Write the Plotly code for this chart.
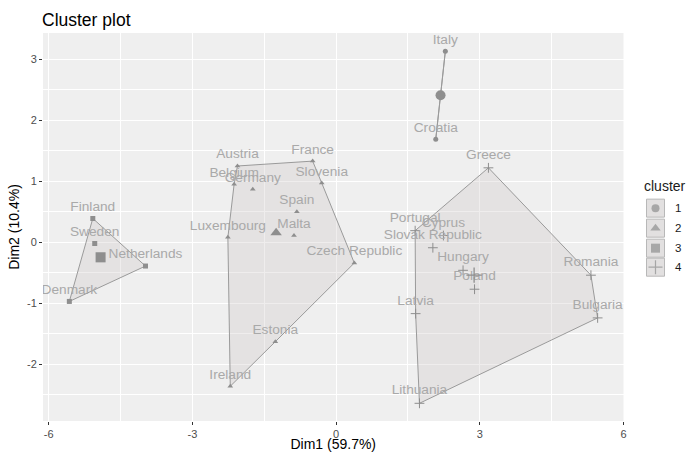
import plotly.graph_objects as go

# ---------------- data ----------------
countries = ["Italy", "Croatia",
             "Austria", "France", "Slovenia", "Belgium", "Germany", "Spain", "Malta",
             "Luxembourg", "Czech Republic", "Estonia", "Ireland",
             "Finland", "Sweden", "Netherlands", "Denmark",
             "Greece", "Portugal", "Cyprus", "Slovak Republic", "Hungary", "Poland",
             "Romania", "Bulgaria", "Latvia", "Lithuania"]
dim1 = [2.28, 2.08,
        -2.06, -0.49, -0.30, -2.13, -1.74, -0.82, -0.88,
        -2.26, 0.38, -1.27, -2.21,
        -5.08, -5.04, -3.98, -5.57,
        3.18, 1.65, 2.24, 2.02, 2.65, 2.89,
        5.32, 5.46, 1.66, 1.74]
dim2 = [3.13, 1.69,
        1.25, 1.33, 0.97, 0.95, 0.87, 0.50, 0.11,
        0.08, -0.34, -1.63, -2.36,
        0.39, -0.02, -0.39, -0.97,
        1.22, 0.19, 0.11, -0.09, -0.46, -0.77,
        -0.54, -1.24, -1.17, -2.64]
cluster = [1, 1,
           2, 2, 2, 2, 2, 2, 2, 2, 2, 2, 2,
           3, 3, 3, 3,
           4, 4, 4, 4, 4, 4, 4, 4, 4, 4]
cluster_ids = [1, 2, 3, 4]
symbols = {1: "circle", 2: "triangle-up", 3: "square", 4: "cross-thin"}

xticks = [-6, -3, 0, 3, 6]
yticks = [-2, -1, 0, 1, 2, 3]

PT = "#8e8e8e"
LAB = "#a9a9a9"
FONT = "Liberation Sans, Arial, sans-serif"


def hull(pts):
    pts = sorted(set(pts))
    if len(pts) < 3:
        return pts

    def cross(o, a, b):
        return (a[0] - o[0]) * (b[1] - o[1]) - (a[1] - o[1]) * (b[0] - o[0])
    lower, upper = [], []
    for p in pts:
        while len(lower) >= 2 and cross(lower[-2], lower[-1], p) <= 0:
            lower.pop()
        lower.append(p)
    for p in reversed(pts):
        while len(upper) >= 2 and cross(upper[-2], upper[-1], p) <= 0:
            upper.pop()
        upper.append(p)
    return lower[:-1] + upper[:-1]


fig = go.Figure()

# hulls
for c in cluster_ids:
    pts = [(x, y) for x, y, k in zip(dim1, dim2, cluster) if k == c]
    h = hull(pts)
    hx = [p[0] for p in h] + [h[0][0]]
    hy = [p[1] for p in h] + [h[0][1]]
    fig.add_trace(go.Scatter(x=hx, y=hy, mode="lines", fill="toself",
                             fillcolor="rgba(205,198,198,0.32)",
                             line=dict(color="#9a9a9a", width=1),
                             hoverinfo="skip", showlegend=False))

# points + labels
for c in cluster_ids:
    xs = [x for x, k in zip(dim1, cluster) if k == c]
    ys = [y for y, k in zip(dim2, cluster) if k == c]
    names = [n for n, k in zip(countries, cluster) if k == c]
    sym = symbols[c]
    mk = dict(symbol=sym, size=5 if c != 4 else 7, color=PT,
              line=dict(color=PT, width=1 if c == 4 else 0))
    fig.add_trace(go.Scatter(x=xs, y=ys, mode="markers+text", text=names,
                             textposition="top center",
                             textfont=dict(family=FONT, size=13.7, color=LAB),
                             marker=mk, showlegend=False))
    # centroid
    cx = sum(xs) / len(xs)
    cy = sum(ys) / len(ys)
    fig.add_trace(go.Scatter(x=[cx], y=[cy], mode="markers",
                             marker=dict(symbol=sym, size=10 if c != 4 else 11, color=PT,
                                         line=dict(color=PT, width=1.3 if c == 4 else 0)),
                             showlegend=False))

W, H = 687, 452

# ---- manual legend on a pixel-mapped overlay axis ----
key_y = [208, 228, 248, 267]
key_x0, key_x1 = 646.5, 664.5
for c, ky in zip(cluster_ids, key_y):
    fig.add_shape(type="rect", xref="x2", yref="y2", x0=key_x0, x1=key_x1,
                  y0=ky - 9, y1=ky + 9, fillcolor="#e2e0e0",
                  line=dict(color="#b8b8b8", width=1), layer="below")
    fig.add_annotation(xref="x2", yref="y2", x=673, y=ky, text=str(c),
                       showarrow=False, xanchor="left", yanchor="middle",
                       font=dict(family=FONT, size=11.5, color="#1a1a1a"))
fig.add_trace(go.Scatter(x=[(key_x0 + key_x1) / 2] * 4, y=key_y, mode="markers",
                         marker=dict(symbol=[symbols[c] for c in cluster_ids],
                                     size=[8, 9, 9, 10], color=PT,
                                     line=dict(color=PT, width=[0, 0, 0, 1.2])),
                         xaxis="x2", yaxis="y2", showlegend=False, hoverinfo="skip",
                         cliponaxis=False))
fig.add_annotation(xref="x2", yref="y2", x=642, y=186, text="cluster",
                   showarrow=False, xanchor="left", yanchor="middle",
                   font=dict(family=FONT, size=14, color="#1a1a1a"))

# panel background
fig.add_shape(type="rect", xref="x domain", yref="y domain", x0=0, x1=1, y0=0, y1=1,
              fillcolor="#efefef", line=dict(width=0), layer="below")

ml = 43
mt = 33
mb = H - 420.7
mr = 0
plot_w = W - ml - mr
right_px = 623.5
xdom_end = (right_px - ml) / plot_w
leg_start = (636 - ml) / plot_w

fig.update_layout(
    width=W, height=H,
    margin=dict(l=ml, r=mr, t=mt, b=mb, pad=0, autoexpand=False),
    paper_bgcolor="white", plot_bgcolor="rgba(0,0,0,0)",
    showlegend=False,
    title=dict(text="Cluster plot", x=42 / W, xanchor="left",
               y=1 - 20 / H, yanchor="middle",
               font=dict(family=FONT, size=17.5, color="#000000")),
    xaxis=dict(domain=[0, xdom_end], range=[-6.12, 6.0], tickvals=xticks,
               ticktext=[str(v) for v in xticks], automargin=False,
               showgrid=True, gridcolor="white", gridwidth=1.1, zeroline=False,
               minor=dict(dtick=1.5, tick0=-4.5, showgrid=True, gridcolor="white", gridwidth=0.5),
               ticks="outside", ticklen=3, tickcolor="#333333", tickwidth=1,
               tickfont=dict(family=FONT, size=11, color="#4d4d4d"),
               title=dict(text="Dim1 (59.7%)", standoff=4,
                          font=dict(family=FONT, size=14, color="#000000")),
               showline=False),
    yaxis=dict(domain=[0, 1], range=[-2.93, 3.43], tickvals=yticks,
               ticktext=[str(v) for v in yticks], automargin=False,
               showgrid=True, gridcolor="white", gridwidth=1.1, zeroline=False,
               minor=dict(dtick=1, tick0=-2.5, showgrid=True, gridcolor="white", gridwidth=0.5),
               ticks="outside", ticklen=3, tickcolor="#333333", tickwidth=1,
               tickfont=dict(family=FONT, size=11, color="#4d4d4d"),
               title=dict(text="Dim2 (10.4%)", standoff=4,
                          font=dict(family=FONT, size=14, color="#000000")),
               showline=False),
    xaxis2=dict(domain=[leg_start, 1], range=[636, 687], visible=False,
                fixedrange=True, automargin=False),
    yaxis2=dict(domain=[0, 1], range=[H - mb, mt], visible=False, fixedrange=True,
                anchor="x2", automargin=False),
)

# remove the browser's default 8px body margin so the figure fills the window
fig.write_html("out.html", config={"displayModeBar": False},
               post_script="document.body.style.margin='0';document.body.style.overflow='hidden';")
